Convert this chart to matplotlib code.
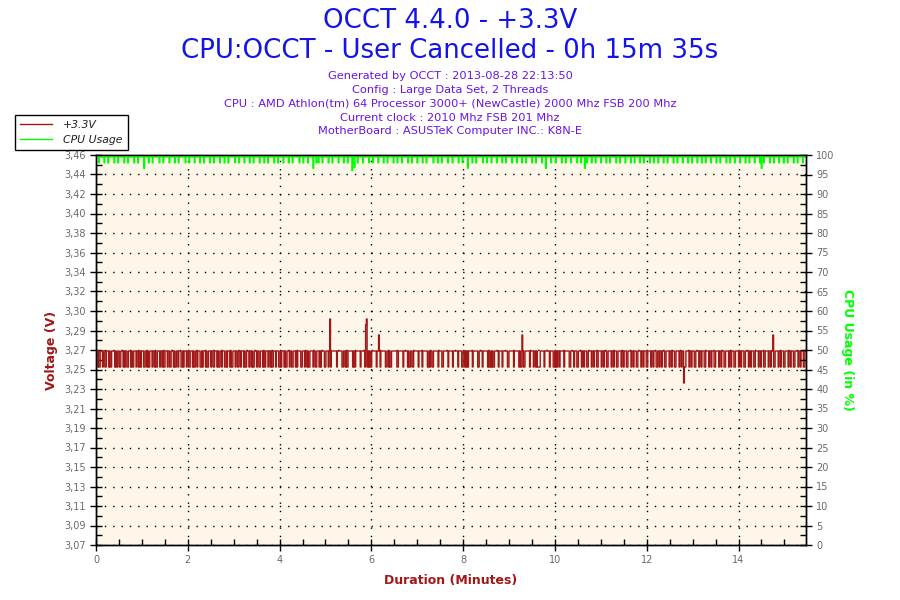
import numpy as np
import matplotlib.pyplot as plt
from matplotlib.lines import Line2D

# OCCT +3.3V log, one sample per second (1 = 3.264 V, 0 = 3.248 V)
volt_bits = (
    "110100111011001110100111101001100111010110011101001110110010111001101001110110"
    "100111011010011101100111010011011100101110110011101001101110010111010011101100"
    "111010011011100101110100111011001101110100111011010011101100111010011101101001"
    "110111001011101001110110011101011110011101101001111011001110101111001110110111"
    "111101111110011010011111101001111110111110100101001111110111101111110011010011"
    "111110011111101111101001100111111011110111111001011001111110111100111111011111"
    "011111101111001101010111110111111001111011111101001010011111011110111111001111"
    "110111111010011001111110111101101000011111011111101111001010110111110111111001"
    "111011100111101101110011110110111001111011011100111101101110011110110111001111"
    "011011100111101101110011110110111001101101110011110110111001111011011100111101"
    "101110011110110111001111011011100111101101110011110110111001111011011100111101"
    "10111001111011011100111101101110011110110111001111011011100111101101110011"
)
volt_high = 3.264
volt_low = 3.248
# (minute, volts) for spikes / dips
volt_spikes = [(5.10, 3.296), (5.88, 3.290), (5.90, 3.296), (6.17, 3.280),
               (9.29, 3.280), (12.81, 3.232), (14.76, 3.280)]

# CPU usage, one sample per second, 1 = small dip (98 %), 0 = full load
cpu_bits = (
    "000010000001000010000000100001000000010000100000001000010000000100000100001000"
    "000001000010000000100000010000100000000100001000000100000010000100000001000010"
    "000000100000100001000000001000010000001000000100001000000010000010000100000001"
    "000010000001000000100001000000001000010000010000001000000100001000000010000100"
    "000001000000100001000000010000100000010000000100001000000100000010000100000001"
    "000010000010000000100001000000100000010000100000000100000100001000000010000010"
    "000000100001000000100000100001000000001000010000010000001000000100001000000010"
    "000010000001000010000000100001000000010000100000010000010000000100001000000100"
    "000001000010000000100000100001000000100000010000100000001000010000001000000100"
    "001000000100001000000010000100000100000010000100000001000010000001000000100001"
    "000000100000100001000000100000010000100000001000010000010000001000000100001000"
    "00010000001000010000000100001000000100000100001000000010000100000010000"
)
cpu_full = 99.5
cpu_dip = 98.0
cpu_deep = [(1.05, 96.6), (4.73, 96.6), (4.80, 98.0), (5.58, 96.0), (5.63, 96.8),
            (8.10, 96.6), (9.80, 96.6), (10.65, 96.6), (14.50, 96.6)]

duration_min = 15.47

volt_ticks_lbl = ["3,07", "3,09", "3,11", "3,13", "3,15", "3,17", "3,19", "3,21",
                  "3,23", "3,25", "3,27", "3,29", "3,30", "3,32", "3,34", "3,36",
                  "3,38", "3,40", "3,42", "3,44", "3,46"]

title1 = "OCCT 4.4.0 - +3.3V"
title2 = "CPU:OCCT - User Cancelled - 0h 15m 35s"
info = ["Generated by OCCT : 2013-08-28 22:13:50",
        "Config : Large Data Set, 2 Threads",
        "CPU : AMD Athlon(tm) 64 Processor 3000+ (NewCastle) 2000 Mhz FSB 200 Mhz",
        "Current clock : 2010 Mhz FSB 201 Mhz",
        "MotherBoard : ASUSTeK Computer INC.: K8N-E"]

# build series
volt = np.array([volt_high if b == "1" else volt_low for b in volt_bits])
tv = np.linspace(0, duration_min, len(volt))
for m, v in volt_spikes:
    volt[np.argmin(abs(tv - m))] = v

cpu = np.array([cpu_dip if b == "1" else cpu_full for b in cpu_bits])
tc = np.linspace(0, duration_min, len(cpu))
for m, v in cpu_deep:
    cpu[np.argmin(abs(tc - m))] = v

red = "#a01818"
green = "#00ff00"
tick_col = "#6a6a6a"

fig = plt.figure(figsize=(9, 6), dpi=100)
ax = fig.add_axes([96/900, 55/600, 710/900, 390/600])
ax.set_facecolor("#fdf6e9")
ax2 = ax.twinx()

ax.plot(tv, volt, color=red, lw=1.0, drawstyle="steps-mid", zorder=3)
ax2.plot(tc, cpu, color=green, lw=1.0, drawstyle="steps-mid")

ax.set_xlim(0, duration_min)
ax.set_ylim(3.07, 3.46)
ax2.set_ylim(0, 100)

yt = np.linspace(3.07, 3.46, 21)
ax.set_yticks(yt)
ax.set_yticklabels(volt_ticks_lbl)
ax.set_yticks((yt[:-1] + yt[1:]) / 2, minor=True)
ax.set_xticks(np.arange(0, 15, 2))
ax.set_xticks(np.arange(0, 15.5, 0.5), minor=True)
ax2.set_yticks(np.arange(0, 101, 5))
ax2.set_yticks(np.arange(2.5, 100, 5), minor=True)

for a in (ax, ax2):
    a.tick_params(which="major", direction="inout", length=8, width=1,
                  labelsize=7, labelcolor=tick_col)
    a.tick_params(which="minor", direction="in", length=4, width=1)
    for s in a.spines.values():
        s.set_linewidth(1)

ax.grid(True, which="major", color="black", linestyle=(0, (1, 5)), lw=1)

ax.set_ylabel("Voltage (V)", color=red, fontweight="bold", fontsize=9, labelpad=4)
ax.set_xlabel("Duration (Minutes)", color=red, fontweight="bold", fontsize=9, labelpad=6)
ax2.set_ylabel("CPU Usage (in %)", color=green, fontweight="bold", fontsize=9,
               rotation=-90, labelpad=14)

fig.text(0.5, 0.965, title1, ha="center", va="center", color="#1414e6", fontsize=18.7)
fig.text(0.5, 0.915, title2, ha="center", va="center", color="#1414e6", fontsize=18.7)
ys = [0.873, 0.850, 0.827, 0.804, 0.781]
for t, y in zip(info, ys):
    fig.text(0.5, y, t, ha="center", va="center", color="#6a14e6", fontsize=8.2)

handles = [Line2D([], [], color=red, lw=1), Line2D([], [], color=green, lw=1)]
leg = fig.legend(handles, ["+3.3V", "CPU Usage"], loc="upper left",
                 bbox_to_anchor=(15/900, 1 - 115/600), borderaxespad=0,
                 fancybox=False, edgecolor="black", framealpha=1, fontsize=7.8,
                 handlelength=3.0, borderpad=0.45, labelspacing=0.45,
                 handletextpad=1.0)
leg.get_frame().set_linewidth(1)
for t in leg.get_texts():
    t.set_fontstyle("italic")
    t.set_color("#202020")

fig.savefig("out.png", dpi=100)
